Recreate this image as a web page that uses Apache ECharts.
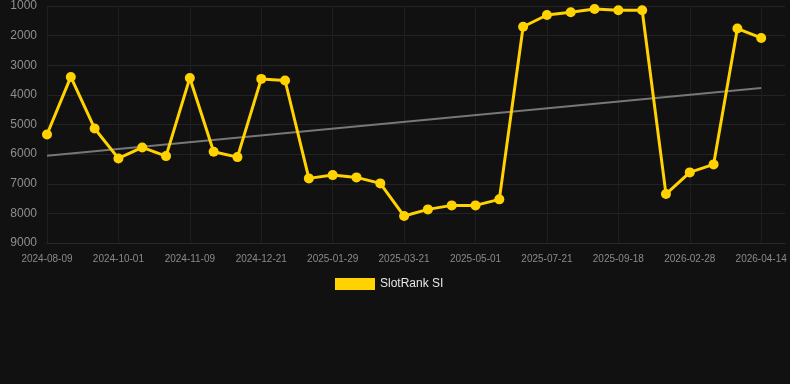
<!DOCTYPE html>
<html>
<head>
<meta charset="utf-8">
<script src="https://cdn.jsdelivr.net/npm/echarts@6/dist/echarts.min.js"></script>
<style>
html,body{margin:0;padding:0;background:#111111;}
#chart{width:790px;height:384px;}
</style>
</head>
<body>
<div id="chart"></div>
<script>
const categories = [
  '2024-08-09','2024-08-27','2024-09-13','2024-10-01','2024-10-14','2024-10-27',
  '2024-11-09','2024-11-23','2024-12-07','2024-12-21','2025-01-03','2025-01-16',
  '2025-01-29','2025-02-15','2025-03-04','2025-03-21','2025-04-04','2025-04-17',
  '2025-05-01','2025-05-28','2025-06-24','2025-07-21','2025-08-09','2025-08-28',
  '2025-09-18','2025-11-10','2026-01-05','2026-02-28','2026-03-14','2026-03-31',
  '2026-04-14',''
];
const slotRankValues = [
  5336, 3394, 5134, 6145, 5774, 6067,
  3428, 5922, 6101, 3461, 3515, 6819,
  6708, 6786, 6988, 8090, 7865, 7730,
  7730, 7527, 1701, 1303, 1212, 1101,
  1145, 1145, 7349, 6617, 6347, 1762,
  2079
];
const trendStart = 6057;
const trendEnd = 3765;
const yTicks = { min: 1000, max: 9000, interval: 1000 };
const seriesName = 'SlotRank SI';

const trendData = slotRankValues.map((v, i) =>
  i === 0 ? trendStart : (i === slotRankValues.length - 1 ? trendEnd : null));

const chart = echarts.init(document.getElementById('chart'), null, {renderer: 'canvas'});
chart.setOption({
  backgroundColor: '#111111',
  animation: false,
  grid: { left: 47, right: 5, top: 5.7, bottom: 141, containLabel: false },
  legend: {
    data: [seriesName],
    top: 278,
    left: 335,
    icon: 'rect',
    itemWidth: 40,
    itemHeight: 12,
    itemGap: 10,
    padding: 0,
    textStyle: { color: '#e6e6e6', fontSize: 12, fontFamily: 'Liberation Sans, Arial, sans-serif' }
  },
  xAxis: {
    type: 'category',
    data: categories,
    boundaryGap: false,
    axisLine: { show: true, lineStyle: { color: '#2a2a2a' } },
    axisTick: { show: false },
    axisLabel: {
      interval: 2,
      color: '#8a8a8a',
      fontSize: 10,
      margin: 11,
      fontFamily: 'Liberation Sans, Arial, sans-serif'
    },
    splitLine: { show: true, interval: 2, lineStyle: { color: '#1f1f1f', width: 1 } }
  },
  yAxis: {
    type: 'value',
    inverse: true,
    min: yTicks.min,
    max: yTicks.max,
    interval: yTicks.interval,
    axisLine: { show: false },
    axisTick: { show: false },
    axisLabel: {
      color: '#8f8f8f',
      fontSize: 12,
      margin: 10,
      formatter: function (v) { return String(v); },
      fontFamily: 'Liberation Sans, Arial, sans-serif'
    },
    splitLine: { show: true, lineStyle: { color: '#232323', width: 1 } }
  },
  series: [
    {
      name: seriesName,
      type: 'line',
      data: slotRankValues,
      color: '#FFD200',
      symbol: 'circle',
      symbolSize: 10,
      lineStyle: { width: 3, color: '#FFD200' },
      itemStyle: { color: '#FFD200' },
      z: 3
    },
    {
      name: 'trend',
      type: 'line',
      data: trendData,
      connectNulls: true,
      symbol: 'none',
      lineStyle: { width: 2, color: '#777777' },
      itemStyle: { color: '#777777' },
      z: 2
    }
  ]
});
</script>
</body>
</html>
